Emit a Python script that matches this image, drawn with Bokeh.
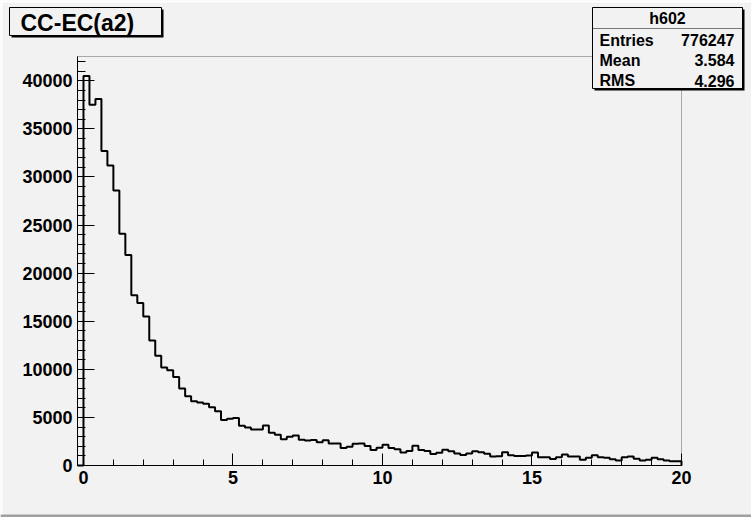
from bokeh.plotting import figure
from bokeh.models import Range1d, FixedTicker, BoxAnnotation, Label
from bokeh.embed import file_html
from bokeh.resources import INLINE
import numpy as np

# Histogram h602: 101 bins of width 0.2 from -0.2 to 20
hist_name = "h602"
hist_title = "CC-EC(a2)"
bin_low, bin_high = -0.2, 20.0
counts = [
    0,
    40500, 37500, 38100, 32700, 31200, 28600, 24100, 21900, 17700, 16900,
    15500, 13000, 11400, 10200, 9900, 9200, 8000, 7200, 6670, 6540,
    6410, 6060, 5650, 4740, 4850, 4950, 4140, 3940, 3740, 3740,
    4160, 3410, 3190, 2740, 3000, 3130, 2690, 2600, 2640, 2430,
    2630, 2290, 2300, 1820, 1940, 2250, 2300, 2030, 1600, 1840,
    2150, 1820, 1680, 1350, 1520, 2060, 1610, 1500, 1200, 1330,
    1650, 1470, 1250, 1080, 1260, 1490, 1390, 1210, 940, 970,
    1390, 1070, 1000, 1000, 1040, 1350, 870, 870, 680, 870,
    1140, 935, 935, 590, 800, 1070, 865, 800, 660, 520,
    865, 935, 690, 520, 590, 800, 660, 520, 450, 450,
]
stats_names = ["Entries", "Mean", "RMS"]
stats_values = ["776247", "3.584", "4.296"]

x_ticks = [0, 5, 10, 15, 20]
x_minor = list(range(0, 21))
y_ticks = [0, 5000, 10000, 15000, 20000, 25000, 30000, 35000, 40000]
y_minor = list(range(0, 43000, 1000))
y_max = 42530

W, H = 751, 517
# pad (pixels) between the canvas edge and the histogram frame
PAD_L, PAD_R, PAD_T, PAD_B = 77, 70, 56, 52
BG = "#f2f2f2"
FONT = "Liberation Sans"

# the plotting area spans the whole canvas; the axes sit at fixed data positions
xpp = (bin_high - bin_low) / (W - PAD_L - PAD_R)
ypp = y_max / (H - PAD_T - PAD_B)
x_range = Range1d(bin_low - PAD_L * xpp, bin_high + PAD_R * xpp)
y_range = Range1d(-PAD_B * ypp, y_max + PAD_T * ypp)

p = figure(width=W, height=H, output_backend="svg", toolbar_location=None,
           x_range=x_range, y_range=y_range, min_border=0)
p.background_fill_color = BG
p.border_fill_color = BG
p.outline_line_color = None
p.xgrid.visible = False
p.ygrid.visible = False

# histogram frame
p.add_layout(BoxAnnotation(left=bin_low, right=bin_high, bottom=0, top=y_max,
                           fill_alpha=0, line_color="black", line_width=1,
                           level="underlay"))

# step outline of the histogram, dropping to zero at both ends
edges = np.linspace(bin_low, bin_high, len(counts) + 1)
c = np.asarray(counts, dtype=float)
xs = np.concatenate([[edges[0]], np.repeat(edges, 2)[1:-1], [edges[-1]]])
ys = np.concatenate([[0.0], np.repeat(c, 2), [0.0]])
p.line(xs, ys, line_color="black", line_width=2)

for ax, ticks, minor, t_in, m_in, loc, bnd in (
        (p.xaxis[0], x_ticks, x_minor, 12, 6, 0, (bin_low, bin_high)),
        (p.yaxis[0], y_ticks, y_minor, 17, 8, bin_low, (0, y_max))):
    ax.fixed_location = loc
    ax.bounds = bnd
    ax.ticker = FixedTicker(ticks=ticks, minor_ticks=minor)
    ax.major_tick_in = t_in
    ax.major_tick_out = 0
    ax.minor_tick_in = m_in
    ax.minor_tick_out = 0
    ax.axis_line_color = "black"
    ax.major_tick_line_color = "black"
    ax.minor_tick_line_color = "black"
    ax.major_label_text_font = FONT
    ax.major_label_text_font_style = "bold"
    ax.major_label_text_font_size = "18px"
    ax.major_label_text_color = "black"
    ax.major_label_standoff = 5


def cbox(l, t, r, b, **kw):
    p.add_layout(BoxAnnotation(left=l, right=r, top=t, bottom=b,
                               left_units="canvas", right_units="canvas",
                               top_units="canvas", bottom_units="canvas", **kw))


# canvas bevel
cbox(0, 0, W, 2, fill_color="white", fill_alpha=1, line_alpha=0)
cbox(0, 0, 2, H, fill_color="white", fill_alpha=1, line_alpha=0)
cbox(0, H - 3, W, H, fill_color="#a0a0a0", fill_alpha=1, line_alpha=0)


def panel(l, t, r, b):
    # shadow first, then the framed box on top
    cbox(l + 2, t + 2, r + 2, b + 2, fill_color="black", fill_alpha=1, line_alpha=0)
    cbox(l, t, r, b, fill_color=BG, fill_alpha=1,
         line_color="black", line_width=1, line_alpha=1)


def text(x, y, s, size, align="left"):
    p.add_layout(Label(x=x, y=y, x_units="canvas", y_units="canvas", text=s,
                       text_font=FONT, text_font_style="bold",
                       text_font_size=size, text_align=align,
                       text_baseline="middle", text_color="black"))


# title box
panel(9, 7, 161, 35)
text(20, 22, hist_title, "23px")

# statistics box
panel(592, 7, 742, 88)
cbox(592, 28, 742, 28, fill_alpha=0, line_color="black", line_width=1)
text(667, 18, hist_name, "16px", "center")
for i, (n, v) in enumerate(zip(stats_names, stats_values)):
    text(599, 39.5 + 20.3 * i, n, "16px", "left")
    text(734, 39.5 + 20.3 * i, v, "16px", "right")

open("out.html", "w").write(file_html(p, INLINE))
